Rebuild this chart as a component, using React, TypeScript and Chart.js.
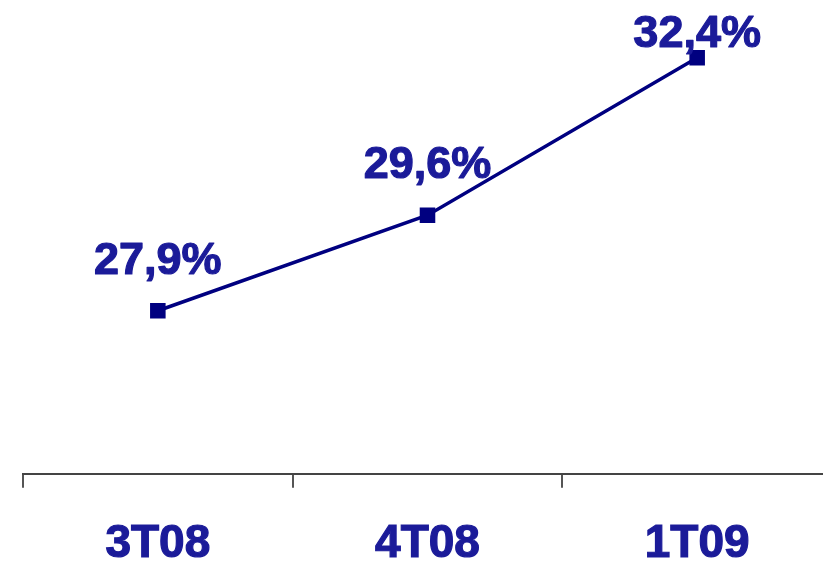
import React, { useEffect, useRef } from "react";
import { Chart, registerables } from "chart.js";

Chart.register(...registerables);

const categories = ["3T08", "4T08", "1T09"];
const values = [27.9, 29.6, 32.4];
const valueLabels = ["27,9%", "29,6%", "32,4%"];

const LABEL_COLOR = "#1b1b99";
const LINE_COLOR = "#000080";
const FONT = '"Liberation Sans", Arial, sans-serif';

const labelPlugin = {
  id: "valueLabels",
  afterDatasetsDraw(chart: any) {
    const ctx = chart.ctx;
    const meta = chart.getDatasetMeta(0);
    ctx.save();
    ctx.font = `bold 45px ${FONT}`;
    ctx.fillStyle = LABEL_COLOR;
    ctx.strokeStyle = LABEL_COLOR;
    ctx.lineWidth = 1.2;
    ctx.lineJoin = "round";
    ctx.textAlign = "center";
    ctx.textBaseline = "alphabetic";
    meta.data.forEach((pt: any, i: number) => {
      const y = Math.max(pt.y - 37, 47);
      ctx.fillText(valueLabels[i], pt.x, y);
      ctx.strokeText(valueLabels[i], pt.x, y);
    });
    ctx.restore();
  },
};

export default function App() {
  const ref = useRef<HTMLCanvasElement>(null);
  useEffect(() => {
    const chart = new Chart(ref.current!, {
      type: "line",
      data: {
        labels: categories,
        datasets: [
          {
            data: values,
            borderColor: LINE_COLOR,
            backgroundColor: LINE_COLOR,
            borderWidth: 3.5,
            pointStyle: "rect",
            pointRadius: 11,
            pointBackgroundColor: LINE_COLOR,
            pointBorderColor: LINE_COLOR,
            pointBorderWidth: 0,
            tension: 0,
          },
        ],
      },
      options: {
        responsive: false,
        animation: false,
        layout: { padding: { left: 23, right: 18, top: 24, bottom: 0 } },
        plugins: { legend: { display: false }, tooltip: { enabled: false } },
        scales: {
          x: {
            offset: true,
            border: { display: true, color: "#444444", width: 2 },
            grid: {
              offset: true,
              drawOnChartArea: false,
              drawTicks: true,
              tickLength: 14,
              color: "#555555",
              lineWidth: 2,
            },
            ticks: {
              color: LABEL_COLOR,
              font: { family: FONT, size: 46, weight: "bold" },
              textStrokeColor: LABEL_COLOR,
              textStrokeWidth: 1.2,
              padding: 29,
              maxRotation: 0,
            },
          },
          y: {
            display: false,
            min: 25,
            max: 33,
          },
        },
      },
      plugins: [labelPlugin],
    });
    return () => chart.destroy();
  }, []);
  return (
    <div
      style={{
        position: "absolute",
        left: 0,
        top: 0,
        width: 823,
        height: 561,
        overflow: "hidden",
        background: "#ffffff",
      }}
    >
      <canvas ref={ref} width={850} height={601} style={{ display: "block" }} />
    </div>
  );
}
